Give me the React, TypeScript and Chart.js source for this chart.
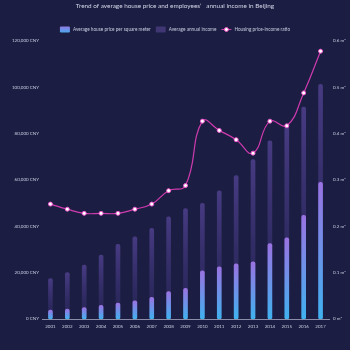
import React, { useEffect, useRef } from "react";
import { Chart, registerables } from "chart.js";

Chart.register(...registerables);

const years = ["2001","2002","2003","2004","2005","2006","2007","2008","2009","2010","2011","2012","2013","2014","2015","2016","2017"];
const housePrice = [3900, 4300, 4900, 5900, 6900, 7800, 9400, 11800, 13200, 20800, 22500, 23800, 24700, 32600, 35000, 44800, 59000];
const annualIncome = [17500, 20000, 23300, 27600, 32200, 35500, 39100, 44100, 47700, 49900, 55300, 61900, 68800, 76900, 83200, 91500, 101300];
const ratio = [0.248, 0.237, 0.228, 0.228, 0.228, 0.237, 0.248, 0.277, 0.288, 0.427, 0.407, 0.387, 0.358, 0.427, 0.417, 0.488, 0.578];
const leftTicks = [0, 20000, 40000, 60000, 80000, 100000, 120000];
const rightTicks = [0, 0.1, 0.2, 0.3, 0.4, 0.5, 0.6];

const titleText = "Trend of average house price and employees’   annual income in Beijing";
const legendLabels = ["Average house price per square meter", "Average annual income", "Housing price-income ratio"];

const BG = "#1b1e42";
const TEXT = "#c9cbe0";
const FONT = "Lato, 'Noto Sans', sans-serif";
const TICK_SIZE = 4.5;

function barGradient(ctx: any, top: string, bottom: string, fallback: string) {
  const chart = ctx.chart;
  const area = chart.chartArea;
  if (!area || ctx.type !== "data") return fallback;
  const y = chart.scales.y;
  const v = ctx.raw as number;
  const yTop = y.getPixelForValue(v);
  const yBot = y.getPixelForValue(0);
  if (!isFinite(yTop) || !isFinite(yBot) || yTop === yBot) return fallback;
  const g = chart.ctx.createLinearGradient(0, yTop, 0, yBot);
  g.addColorStop(0, top);
  g.addColorStop(1, bottom);
  return g;
}

const customDraw = {
  id: "customDraw",
  beforeDraw(chart: any) {
    const c = chart.ctx;
    c.save();
    c.fillStyle = BG;
    c.fillRect(0, 0, chart.width, chart.height);
    c.restore();
  },
  afterDraw(chart: any) {
    const c = chart.ctx;
    c.save();
    c.fillStyle = "#d4d6e8";
    c.font = `6.4px ${FONT}`;
    c.textAlign = "center";
    c.textBaseline = "middle";
    c.fillText(titleText, chart.width / 2, 5.5);

    c.font = `4.7px ${FONT}`;
    c.textAlign = "left";
    const y = 29.5;
    const gap = 5;
    const boxW = 10;
    const w0 = c.measureText(legendLabels[0]).width;
    const w1 = c.measureText(legendLabels[1]).width;
    const w2 = c.measureText(legendLabels[2]).width;
    const total = boxW + 3 + w0 + gap + boxW + 3 + w1 + gap + boxW + 3 + w2;
    let x = chart.width / 2 - total / 2;
    // item 1
    const g = c.createLinearGradient(0, y - 3, 0, y + 3);
    g.addColorStop(0, "#8f79e4");
    g.addColorStop(1, "#4ea8ee");
    c.fillStyle = g;
    c.beginPath();
    c.roundRect(x, y - 3, boxW, 6, 1);
    c.fill();
    x += boxW + 3;
    c.fillStyle = TEXT;
    c.fillText(legendLabels[0], x, y);
    x += w0 + gap;
    // item 2
    c.fillStyle = "#3f3673";
    c.beginPath();
    c.roundRect(x, y - 3, boxW, 6, 1);
    c.fill();
    x += boxW + 3;
    c.fillStyle = TEXT;
    c.fillText(legendLabels[1], x, y);
    x += w1 + gap;
    // item 3
    c.strokeStyle = "#d23fb0";
    c.lineWidth = 1;
    c.beginPath();
    c.moveTo(x, y);
    c.lineTo(x + boxW, y);
    c.stroke();
    c.fillStyle = "#ffffff";
    c.beginPath();
    c.arc(x + boxW / 2, y, 2, 0, Math.PI * 2);
    c.fill();
    c.strokeStyle = "#e64fc0";
    c.stroke();
    x += boxW + 3;
    c.fillStyle = TEXT;
    c.fillText(legendLabels[2], x, y);
    c.restore();
  },
};

export default function App() {
  const ref = useRef<HTMLCanvasElement>(null);
  useEffect(() => {
    document.body.style.margin = "0";
    const canvas = ref.current!;
    const chart = new Chart(canvas, {
      type: "bar",
      data: {
        labels: years,
        datasets: [
          {
            type: "line",
            label: legendLabels[2],
            data: ratio,
            yAxisID: "y1",
            borderColor: "#cf3aae",
            borderWidth: 1.2,
            tension: 0.45,
            pointRadius: 2,
            pointBackgroundColor: "#ffffff",
            pointBorderColor: "#f05ad0",
            pointBorderWidth: 1,
            order: 0,
          } as any,
          {
            type: "bar",
            label: legendLabels[0],
            data: housePrice,
            yAxisID: "y",
            barThickness: 4,
            grouped: false,
            borderRadius: 2,
            borderSkipped: false,
            backgroundColor: (ctx: any) => barGradient(ctx, "#9a72e2", "#3fb2ef", "#6f8fe8"),
            order: 1,
          },
          {
            type: "bar",
            label: legendLabels[1],
            data: annualIncome,
            yAxisID: "y",
            barThickness: 4,
            grouped: false,
            borderRadius: 2,
            borderSkipped: false,
            backgroundColor: (ctx: any) => barGradient(ctx, "rgba(98,76,170,0.62)", "rgba(70,56,140,0.22)", "rgba(80,64,150,0.45)"),
            order: 2,
          },
        ],
      },
      options: {
        animation: false,
        responsive: false,
        maintainAspectRatio: false,
        layout: { padding: { top: 41, left: 0, right: 0, bottom: 0 } },
        plugins: {
          legend: { display: false },
          title: { display: false },
          tooltip: { enabled: false },
        },
        scales: {
          x: {
            type: "category",
            offset: true,
            grid: { display: false, drawTicks: false },
            border: { display: true, color: "#8a8ca8", width: 1 },
            ticks: { color: TEXT, font: { size: TICK_SIZE, family: FONT }, padding: 5, maxRotation: 0, autoSkip: false },
            afterFit: (s: any) => { s.height = 31; },
          },
          y: {
            position: "left",
            min: 0,
            max: 120000,
            afterBuildTicks: (s: any) => { s.ticks = leftTicks.map((v) => ({ value: v })); },
            grid: { display: false, drawTicks: false },
            border: { display: false },
            ticks: {
              color: TEXT,
              font: { size: TICK_SIZE, family: FONT },
              padding: 3,
              callback: (v: any) => `${Number(v).toLocaleString("en-US")} CNY`,
            },
            afterFit: (s: any) => { s.width = 42; },
          },
          y1: {
            position: "right",
            min: 0,
            max: 0.6,
            afterBuildTicks: (s: any) => { s.ticks = rightTicks.map((v) => ({ value: v })); },
            grid: { display: false, drawTicks: false },
            border: { display: false },
            ticks: {
              color: TEXT,
              font: { size: TICK_SIZE, family: FONT },
              padding: 4,
              callback: (v: any) => `${Number(v) === 0 ? "0" : Number(v).toFixed(1)} m²`,
            },
            afterFit: (s: any) => { s.width = 21; },
          },
        },
      },
      plugins: [customDraw],
    });
    return () => chart.destroy();
  }, []);
  return (
    <div style={{ position: "fixed", left: 0, top: 0, width: 350, height: 350, background: BG }}>
      <canvas ref={ref} width={350} height={350} style={{ width: 350, height: 350, display: "block" }} />
    </div>
  );
}
